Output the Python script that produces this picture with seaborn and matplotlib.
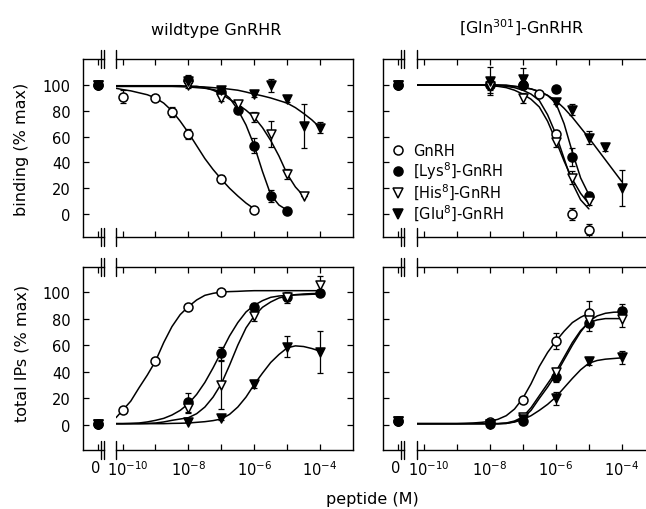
import numpy as np
import pandas as pd
import matplotlib
matplotlib.use("Agg")
import matplotlib.pyplot as plt
from matplotlib.lines import Line2D
from matplotlib.transforms import ScaledTranslation
import seaborn as sns

nan = np.nan

# series
peptides = ["GnRH", "[Lys8]-GnRH", "[His8]-GnRH", "[Glu8]-GnRH"]
legend_labels = ["GnRH", "[Lys$^8$]-GnRH", "[His$^8$]-GnRH", "[Glu$^8$]-GnRH"]
markers = ["o", "o", "v", "v"]
fills = ["white", "black", "white", "black"]

# fitted curves, on a log10 dose grid (quarter decades)
curve_logx = [-10.2, -10, -9.75, -9.5, -9.25, -9, -8.75, -8.5, -8.25, -8, -7.75, -7.5, -7.25,
              -7, -6.75, -6.5, -6.25, -6, -5.75, -5.5, -5.25, -5, -4.75, -4.5, -4.25, -4]

# wildtype GnRHR, binding
wb_g_c = [97.5, 96.5, 95.5, 94, 92.5, 90, 86, 80, 72, 63, 53, 43, 34.5,
          27, 20, 14, 8.5, 4, nan, nan, nan, nan, nan, nan, nan, nan]
wb_k_c = [99, 99, 99, 99, 99, 99, 99, 99, 98.8, 98.5, 98, 97.5, 96.5,
          95, 90, 81, 69, 53, 33, 15, 7, 3, nan, nan, nan, nan]
wb_h_c = [99, 99, 99, 99, 99, 99, 99, 99, 99, 99, 99, 98, 96,
          93, 89, 85, 80.5, 75, 67, 57, 45, 31, 21, 14, nan, nan]
wb_e_c = [99.5, 99.5, 99.5, 99.5, 99.5, 99.5, 99.5, 99.5, 99.5, 99, 98.8, 98.5, 98,
          97.5, 96.8, 96, 94.6, 93, 91.6, 90, 88, 86, 82.5, 78, 73, 67]
wb_g_x = [-10, -9, -8.5, -8, -7, -6]
wb_g_y = [91, 90, 79, 62, 27, 3]
wb_g_e = [5, 2, 4, 4, 3, 0]
wb_k_x = [-8, -7, -6.5, -6, -5.5, -5]
wb_k_y = [104, 95, 81, 53, 14, 2.5]
wb_k_e = [4, 2, 2, 6, 5, 0]
wb_h_x = [-8, -7, -6.5, -6, -5.5, -5, -4.5]
wb_h_y = [100, 90, 85, 75, 62, 31, 14]
wb_h_e = [2, 2, 3, 4, 10, 4, 0]
wb_e_x = [-8, -7, -6, -5.5, -5, -4.5, -4]
wb_e_y = [103, 96, 93, 100, 89, 68, 67]
wb_e_e = [3, 2, 2, 5, 2, 17, 4]
wb_zero = [100, 100, 100, 100]

# [Gln301]-GnRHR, binding
mb_g_c = [100, 100, 100, 100, 100, 100, 100, 100, 100, 100, 99.7, 99, 98,
          96, 93, 88, 77, 62, 43, 24, 11, 4, nan, nan, nan, nan]
mb_k_c = [100, 100, 100, 100, 100, 100, 100, 100, 100, 100, 100, 100, 99,
          98, 97, 95, 92, 86, 70, 48, 28, 15, nan, nan, nan, nan]
mb_h_c = [100, 100, 100, 100, 100, 100, 100, 100, 100, 99.5, 99, 98, 96,
          93, 89, 83, 72, 57, 41, 27, 16, 8, nan, nan, nan, nan]
mb_e_c = [100, 100, 100, 100, 100, 100, 100, 100, 100, 100, 100, 99.5, 99,
          98.5, 97, 95, 92, 88, 82, 75, 67, 59, 50.5, 42, 33.5, 25]
mb_g_x = [-8, -7, -6.5, -6, -5.5, -5]
mb_g_y = [100, 100, 93, 62, 0, -12]
mb_g_e = [4, 2, 2, 3, 5, 4]
mb_k_x = [-8, -7, -6, -5.5, -5]
mb_k_y = [101, 100, 97, 44, 14]
mb_k_e = [3, 3, 2, 7, 3]
mb_h_x = [-8, -7, -6, -5.5, -5]
mb_h_y = [99, 90, 56, 28, 10]
mb_h_e = [5, 4, 4, 5, 3]
mb_e_x = [-8, -7, -6, -5.5, -5, -4.5, -4]
mb_e_y = [103, 105, 87, 81, 59, 52, 20]
mb_e_e = [11, 8, 2, 4, 5, 3, 14]
mb_zero = [100, 100, 100, 100]

# wildtype GnRHR, total IPs
wi_g_c = [5.5, 11, 18, 28, 37.5, 48, 62, 74, 83, 89, 94, 97.5, 99,
          100, 100.3, 100.5, 100.8, 101, 101, 101, 101, 101, 101, 101, 101, 101]
wi_k_c = [1, 1, 1.2, 1.5, 2.3, 3.5, 5, 7.5, 11, 16, 23, 32, 43,
          55, 67, 77, 85, 90, 93.5, 96, 97, 97.5, 97.8, 98, 98.3, 98.5]
wi_h_c = [1, 1, 1, 1, 1.2, 1.5, 2.3, 3.5, 4.5, 5.5, 8.5, 13.5, 21,
          31, 45, 60, 73, 82, 88.5, 92.5, 95.5, 97, 98, 98.5, 98.8, 99]
wi_e_c = [1, 1, 1, 1, 1, 1, 1, 1.2, 1.3, 1.5, 2, 2.5, 3.3,
          4.5, 8, 13.5, 21, 30.5, 39, 47, 53, 58, 59.5, 59, 57.5, 55.5]
wi_g_x = [-10, -9, -8, -7]
wi_g_y = [11, 48, 89, 100]
wi_g_e = [1, 1, 1, 1]
wi_k_x = [-8, -7, -6, -5, -4]
wi_k_y = [17, 54, 89, 96, 99]
wi_k_e = [7, 5, 3, 4, 2]
wi_h_x = [-8, -7, -6, -5, -4]
wi_h_y = [13, 30, 82, 96, 105]
wi_h_e = [4, 18, 4, 3, 7]
wi_e_x = [-8, -7, -6, -5, -4]
wi_e_y = [2.5, 5, 31, 59, 55]
wi_e_e = [0, 1, 3, 8, 16]
wi_zero = [1, 1, 1, 1]

# [Gln301]-GnRHR, total IPs
mi_g_c = [1, 1, 1, 1, 1, 1, 1.2, 1.5, 2, 2.7, 4.3, 7, 12,
          20, 31, 44, 54.5, 63, 70.5, 77, 81, 84, nan, nan, nan, nan]
mi_k_c = [1, 1, 1, 1, 1, 1, 1, 1, 1, 1, 1, 1.2, 2.5,
          5, 11, 20, 28.5, 38, 49, 60, 70, 78, 82, 84, 84.8, 85]
mi_h_c = [1, 1, 1, 1, 1, 1, 1, 1, 1, 1, 1, 1.5, 3,
          6, 13, 22, 31, 40, 51, 62, 71, 77, 79, 80, 80, 80]
mi_e_c = [1, 1, 1, 1, 1, 1, 1, 1, 1, 1, 1, 1.2, 2.2,
          4, 7, 11, 15.5, 21, 28, 35, 41.5, 46.5, 48.5, 49.5, 50, 50.5]
mi_g_x = [-8, -7, -6, -5]
mi_g_y = [2, 19, 63, 84]
mi_g_e = [1, 2, 6, 9]
mi_k_x = [-8, -7, -6, -5, -4]
mi_k_y = [1, 3, 36, 77, 86]
mi_k_e = [0, 1, 4, 6, 5]
mi_h_x = [-8, -7, -6, -5, -4]
mi_h_y = [1, 6, 40, 79, 80]
mi_h_e = [0, 1, 3, 5, 6]
mi_e_x = [-8, -7, -6, -5, -4]
mi_e_y = [1, 4.5, 20, 48, 51]
mi_e_e = [0, 1, 5, 3, 5]
mi_zero = [3, 3, 3, 3]

xtick_exp = [-10, -9, -8, -7, -6, -5, -4]
ytick_vals = [0, 20, 40, 60, 80, 100]

sns.set_style("ticks")
plt.rcParams["font.family"] = ["DejaVu Sans"]
plt.rcParams["mathtext.fontset"] = "dejavusans"
for k in ("text.color", "axes.labelcolor", "xtick.color", "ytick.color", "axes.edgecolor"):
    plt.rcParams[k] = "black"

W, H = 646, 510
fig = plt.figure(figsize=(W / 100, H / 100), dpi=100)
TICK_FS = 10.5
LABEL_FS = 11.5


def add(x0, x1, ytop, ybot):
    return fig.add_axes([x0 / W, 1 - ybot / H, (x1 - x0) / W, (ybot - ytop) / H])


def nudge(label, dx_px):
    label.set_transform(label.get_transform()
                        + ScaledTranslation(dx_px / 100, 0, fig.dpi_scale_trans))


def draw_panel(cols, rows, curves, pts, zero, ylim, left_labels, bottom_labels):
    ax0 = add(cols[0], cols[1], rows[0], rows[1])
    ax1 = add(cols[2], cols[3], rows[0], rows[1])
    hgt = rows[1] - rows[0]

    # fitted curves
    recs = []
    for name, c in zip(peptides, curves):
        for lx, v in zip(curve_logx, c):
            if not np.isnan(v):
                recs.append((name, 10.0 ** lx, v))
    cdf = pd.DataFrame(recs, columns=["peptide", "dose", "value"])
    sns.lineplot(data=cdf, x="dose", y="value", units="peptide", estimator=None,
                 color="k", linewidth=1.1, legend=False, ax=ax1, zorder=2)

    # data points with error bars
    for i, (lx, y, e) in enumerate(pts):
        dose = [10.0 ** v for v in lx]
        ax1.errorbar(dose, y, yerr=e, fmt="none", ecolor="k", elinewidth=0.9,
                     capsize=2.5, capthick=0.9, zorder=2.5)
        sns.scatterplot(x=dose, y=y, marker=markers[i], s=42, color=fills[i],
                        edgecolor="k", linewidth=1.1, ax=ax1, zorder=3 + i * 0.1)
        sns.scatterplot(x=[0], y=[zero[i]], marker=markers[i], s=42, color=fills[i],
                        edgecolor="k", linewidth=1.1, ax=ax0, zorder=3 + i * 0.1,
                        clip_on=False)

    ax1.set_xscale("log")
    ax1.set_xlim(10 ** -10.2, 10 ** -3)
    ax0.set_xlim(-0.7, 0.3)
    for ax in (ax0, ax1):
        ax.set_ylim(*ylim)
        ax.set_yticks(ytick_vals)
        ax.set_xlabel("")
        ax.set_ylabel("")
        for s in ax.spines.values():
            s.set_linewidth(1.0)
    ax1.set_xticks([10.0 ** v for v in xtick_exp])
    ax1.xaxis.set_minor_locator(matplotlib.ticker.NullLocator())
    ax0.set_xticks([0])
    if bottom_labels:
        ax1.set_xticklabels(["$10^{%d}$" % v if v % 2 == 0 else "" for v in xtick_exp])
        ax0.set_xticklabels(["0"])
    else:
        ax1.set_xticklabels([])
        ax0.set_xticklabels([])
    ax1.spines["left"].set_visible(False)
    ax0.spines["right"].set_visible(False)
    ax1.tick_params(axis="both", which="major", direction="in", length=4, width=0.9,
                    top=True, right=True, left=False, labelleft=False,
                    labelsize=TICK_FS, pad=7)
    ax0.tick_params(axis="both", which="major", direction="in", length=4, width=0.9,
                    top=True, right=False, labelleft=left_labels,
                    labelsize=TICK_FS, pad=7)
    ax0.tick_params(axis="y", pad=9)
    if bottom_labels:
        # keep "0" and the first decade label apart
        nudge(ax1.xaxis.get_major_ticks()[0].label1, 5)
        nudge(ax0.xaxis.get_major_ticks()[0].label1, -2)

    # axis break marks
    d = 9.0 / hgt
    w0 = cols[1] - cols[0]
    for xf in (1 - 3.0 / w0, 1.0):
        for yb in (0.0, 1.0):
            ax0.plot([xf, xf], [yb - d, yb + d], transform=ax0.transAxes,
                     color="k", lw=1.0, clip_on=False)
    for yb in (0.0, 1.0):
        ax1.plot([0, 0], [yb - d, yb + d], transform=ax1.transAxes,
                 color="k", lw=1.0, clip_on=False)
    return ax0, ax1


left_cols = (83, 104, 116, 353)
right_cols = (383, 404, 417, 655)
top_rows = (60, 238)
bot_rows = (268, 451)

draw_panel(left_cols, top_rows, [wb_g_c, wb_k_c, wb_h_c, wb_e_c],
           [(wb_g_x, wb_g_y, wb_g_e), (wb_k_x, wb_k_y, wb_k_e),
            (wb_h_x, wb_h_y, wb_h_e), (wb_e_x, wb_e_y, wb_e_e)],
           wb_zero, (-17.8, 120.2), True, False)
draw_panel(right_cols, top_rows, [mb_g_c, mb_k_c, mb_h_c, mb_e_c],
           [(mb_g_x, mb_g_y, mb_g_e), (mb_k_x, mb_k_y, mb_k_e),
            (mb_h_x, mb_h_y, mb_h_e), (mb_e_x, mb_e_y, mb_e_e)],
           mb_zero, (-17.8, 120.2), False, False)
draw_panel(left_cols, bot_rows, [wi_g_c, wi_k_c, wi_h_c, wi_e_c],
           [(wi_g_x, wi_g_y, wi_g_e), (wi_k_x, wi_k_y, wi_k_e),
            (wi_h_x, wi_h_y, wi_h_e), (wi_e_x, wi_e_y, wi_e_e)],
           wi_zero, (-18.8, 118.8), True, True)
draw_panel(right_cols, bot_rows, [mi_g_c, mi_k_c, mi_h_c, mi_e_c],
           [(mi_g_x, mi_g_y, mi_g_e), (mi_k_x, mi_k_y, mi_k_e),
            (mi_h_x, mi_h_y, mi_h_e), (mi_e_x, mi_e_y, mi_e_e)],
           mi_zero, (-18.8, 118.8), False, True)

# titles and axis labels
fig.text(216 / W, 1 - 30 / H, "wildtype GnRHR", ha="center", va="center", fontsize=LABEL_FS)
fig.text(522 / W, 1 - 28 / H, "[Gln$^{301}$]-GnRHR", ha="center", va="center", fontsize=LABEL_FS)
fig.text(22 / W, 1 - 149 / H, "binding (% max)", rotation=90, ha="center", va="center",
         fontsize=LABEL_FS)
fig.text(22 / W, 1 - 353 / H, "total IPs (% max)", rotation=90, ha="center", va="center",
         fontsize=LABEL_FS)
fig.text(372 / W, 1 - 500 / H, "peptide (M)", ha="center", va="center", fontsize=LABEL_FS)

handles = [Line2D([], [], marker=m, linestyle="none", markersize=6.5,
                  markerfacecolor=f, markeredgecolor="k", markeredgewidth=1.1)
           for m, f in zip(markers, fills)]
fig.legend(handles, legend_labels, loc="upper left", bbox_to_anchor=(391 / W, 1 - 144 / H),
           frameon=False, fontsize=TICK_FS, handlelength=1.0, handletextpad=0.5,
           labelspacing=0.08, borderpad=0, borderaxespad=0)

fig.savefig("out.png", dpi=100)
